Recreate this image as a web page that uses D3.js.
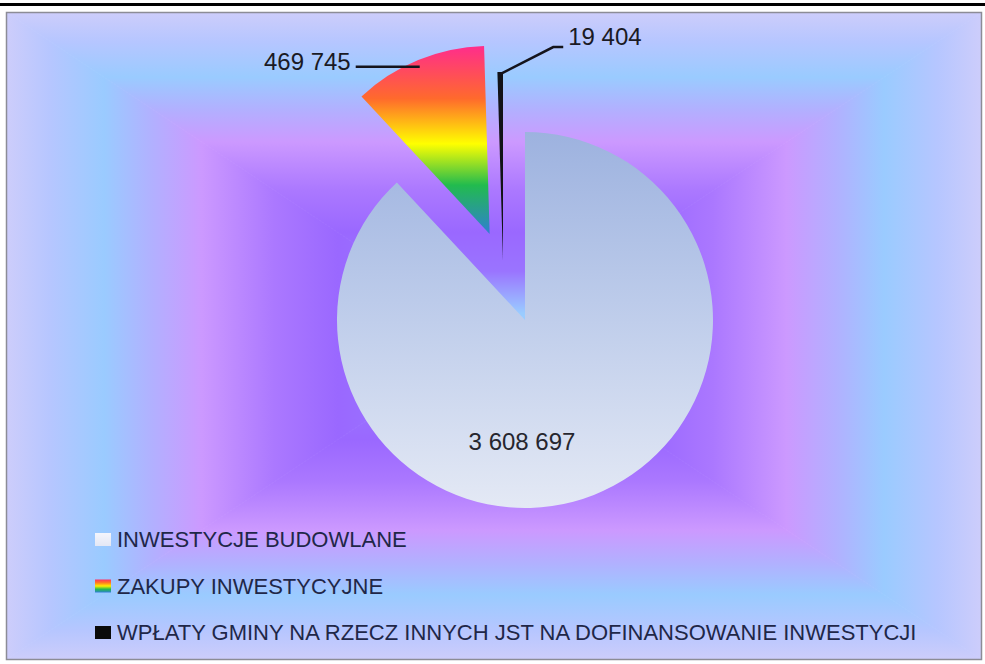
<!DOCTYPE html>
<html>
<head>
<meta charset="utf-8">
<script src="https://cdn.jsdelivr.net/npm/d3@7"></script>
<style>
  html, body { margin: 0; padding: 0; background: #ffffff; }
  svg { display: block; }
</style>
</head>
<body>
<svg id="chart" width="985" height="664"></svg>
<script>
// ---------------- DATA ----------------
const categories = [
  "INWESTYCJE BUDOWLANE",
  "ZAKUPY INWESTYCYJNE",
  "WPŁATY GMINY NA RZECZ INNYCH JST NA DOFINANSOWANIE INWESTYCJI"
];
const values = [3608697, 469745, 19404];

// ---------------- STYLE ----------------
const W = 985, H = 664;
const frame = { x: 6.5, y: 12.5, w: 975, h: 647 };
const center = { x: 525, y: 320 };
const R = 188;
const sliceFills = ["url(#gBig)", "url(#gRainbow)", "#121218"];
const legendFills = ["url(#gLegBig)", "url(#gLegRainbow)", "#0a0a0a"];
// explosion offsets per slice (styling only)
const explode = [null, { radial: 93 }, { dx: -22, dy: -60 }];

const loc = d3.formatLocale({ decimal: ",", thousands: " ", grouping: [3], currency: ["", ""] });
const fmt = loc.format(",d");

const svg = d3.select("#chart");
const defs = svg.append("defs");

// background stops (edge -> center)
const bgStops = [
  [0.00, "#cdcdfb"],
  [0.09, "#b6c6ff"],
  [0.20, "#9acbff"],
  [0.30, "#b2b0ff"],
  [0.40, "#cc99ff"],
  [0.55, "#ab78ff"],
  [0.68, "#9a68ff"],
  [0.80, "#9a74ff"],
  [0.93, "#9accff"],
  [1.00, "#9accff"]
];
function linGrad(id, x1, y1, x2, y2, stops, units) {
  const g = defs.append("linearGradient").attr("id", id)
    .attr("x1", x1).attr("y1", y1).attr("x2", x2).attr("y2", y2)
    .attr("gradientUnits", units || "userSpaceOnUse");
  stops.forEach(s => g.append("stop").attr("offset", s[0]).attr("stop-color", s[1]));
  return g;
}
const cx = frame.x + frame.w / 2, cy = frame.y + frame.h / 2;
const L = frame.x, T = frame.y, Rt = frame.x + frame.w, B = frame.y + frame.h;
linGrad("bgT", 0, T, 0, cy, bgStops);
linGrad("bgB", 0, B, 0, cy, bgStops);
linGrad("bgL", L, 0, cx, 0, bgStops);
linGrad("bgR", Rt, 0, cx, 0, bgStops);

linGrad("gBig", 0, 0, 0, 1, [[0, "#9db2df"], [0.45, "#bccbea"], [1, "#e4e9f5"]], "objectBoundingBox");
linGrad("gRainbow", 0, 0, 0, 1, [
  [0.00, "#ff2d8c"], [0.28, "#ff6a2c"], [0.52, "#ffff00"], [0.74, "#22bb4e"], [1.00, "#2f7fd2"]
], "objectBoundingBox");
linGrad("gLegBig", 0, 0, 0, 1, [[0, "#f4f5fc"], [1, "#e3e7f5"]], "objectBoundingBox");
linGrad("gLegRainbow", 0, 0, 0, 1, [
  [0.00, "#ff3060"], [0.25, "#ff7a20"], [0.5, "#ffee00"], [0.75, "#22bb4e"], [1.00, "#2f7fd2"]
], "objectBoundingBox");

// top black rule
svg.append("rect").attr("x", 0).attr("y", 3).attr("width", W).attr("height", 3).attr("fill", "#000");

// background: rectangular (box) gradient from 4 triangles
const bg = svg.append("g");
const tri = [
  [[L, T], [Rt, T], [cx, cy], "bgT"],
  [[L, B], [Rt, B], [cx, cy], "bgB"],
  [[L, T], [L, B], [cx, cy], "bgL"],
  [[Rt, T], [Rt, B], [cx, cy], "bgR"]
];
tri.forEach(t => {
  bg.append("path")
    .attr("d", `M${t[0][0]},${t[0][1]}L${t[1][0]},${t[1][1]}L${t[2][0]},${t[2][1]}Z`)
    .attr("fill", `url(#${t[3]})`)
    .attr("stroke", `url(#${t[3]})`)
    .attr("stroke-width", 0.8);
});
svg.append("rect")
  .attr("x", frame.x).attr("y", frame.y).attr("width", frame.w).attr("height", frame.h)
  .attr("fill", "none").attr("stroke", "#8c8c96").attr("stroke-width", 1.5);

// ---------------- PIE ----------------
const pie = d3.pie().sort(null).value(d => d).startAngle(0).endAngle(2 * Math.PI)(values);
const arc = d3.arc().innerRadius(0).outerRadius(R);

function offsetOf(i) {
  const e = explode[i];
  if (!e) return [0, 0];
  if (e.radial) {
    const m = (pie[i].startAngle + pie[i].endAngle) / 2;
    return [e.radial * Math.sin(m), -e.radial * Math.cos(m)];
  }
  return [e.dx, e.dy];
}

const pg = svg.append("g").attr("transform", `translate(${center.x},${center.y})`);
pie.forEach((p, i) => {
  const o = offsetOf(i);
  pg.append("path")
    .attr("d", arc(p))
    .attr("transform", `translate(${o[0]},${o[1]})`)
    .attr("fill", sliceFills[i]);
});

// ---------------- DATA LABELS ----------------
const labelFont = "'Liberation Sans', Arial, sans-serif";
function outerMid(i, rr) {
  const p = pie[i], o = offsetOf(i);
  const m = (p.startAngle + p.endAngle) / 2;
  return [center.x + o[0] + rr * Math.sin(m), center.y + o[1] - rr * Math.cos(m)];
}

// big slice label (inside)
svg.append("text")
  .attr("x", center.x - 3).attr("y", center.y + 121 + 8.5)
  .attr("text-anchor", "middle")
  .attr("font-family", labelFont).attr("font-size", 24)
  .attr("fill", "#26262e")
  .text(fmt(values[0]));

// slice 1 label with leader
{
  const pt = outerMid(1, R - 4);
  const y = pt[1] + 3;
  svg.append("path")
    .attr("d", `M${pt[0]},${y}L${pt[0] - 64},${y}`)
    .attr("stroke", "#14141c").attr("stroke-width", 2.5).attr("fill", "none");
  svg.append("text")
    .attr("x", pt[0] - 69).attr("y", y + 3)
    .attr("text-anchor", "end")
    .attr("font-family", labelFont).attr("font-size", 24)
    .attr("fill", "#1a1a24")
    .text(fmt(values[1]));
}
// slice 2 label with leader
{
  const pt = outerMid(2, R - 2);
  const p1 = [pt[0] + 53, pt[1] - 27];
  const p2 = [p1[0] + 10, p1[1]];
  svg.append("path")
    .attr("d", `M${pt[0]},${pt[1]}L${p1[0]},${p1[1]}L${p2[0]},${p2[1]}`)
    .attr("stroke", "#14141c").attr("stroke-width", 2.5).attr("fill", "none");
  svg.append("text")
    .attr("x", p2[0] + 5).attr("y", p2[1] - 2)
    .attr("font-family", labelFont).attr("font-size", 24)
    .attr("fill", "#1a1a24")
    .text(fmt(values[2]));
}

// ---------------- LEGEND ----------------
const legend = svg.append("g").attr("transform", "translate(95,539)");
const rowGap = 46.5;
categories.forEach((c, i) => {
  const g = legend.append("g").attr("transform", `translate(0,${i * rowGap})`);
  g.append("rect").attr("x", 0).attr("y", -6).attr("width", 16).attr("height", 13)
    .attr("fill", legendFills[i]);
  g.append("text")
    .attr("x", 22).attr("y", 8)
    .attr("font-family", labelFont).attr("font-size", 22)
    .attr("fill", "#1f2748")
    .text(c);
});
</script>
</body>
</html>
